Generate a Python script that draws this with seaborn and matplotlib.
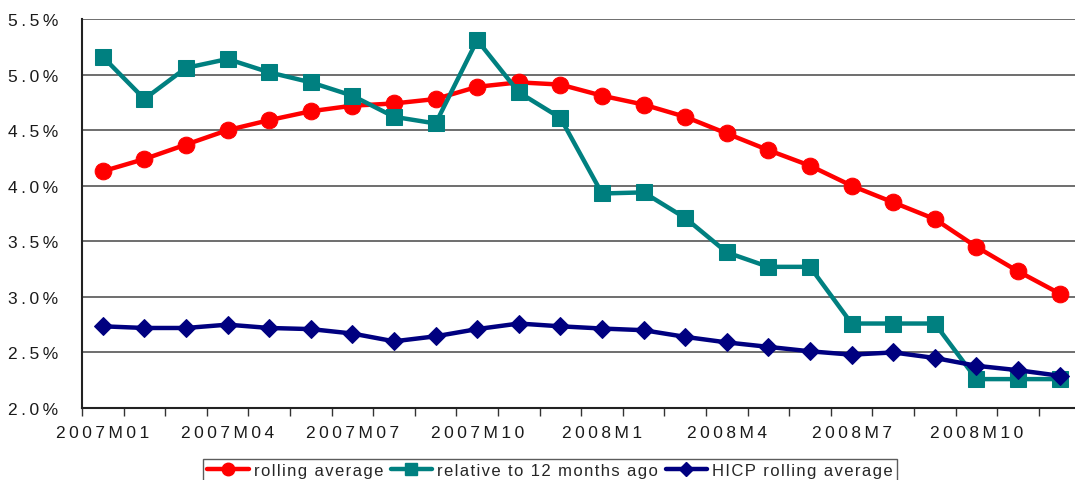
import matplotlib
matplotlib.use("Agg")
import matplotlib.pyplot as plt
from matplotlib.ticker import FixedLocator, NullFormatter
import numpy as np
import pandas as pd
import seaborn as sns

# Monthly categories, January 2007 to December 2008
months = [f"2007M{m:02d}" for m in range(1, 13)] + [f"2008M{m}" for m in range(1, 13)]

# Inflation measures, percent
rolling_average = [4.13, 4.24, 4.37, 4.50, 4.59, 4.67, 4.72, 4.74, 4.78, 4.89, 4.93, 4.91,
                   4.81, 4.73, 4.62, 4.47, 4.32, 4.18, 4.00, 3.85, 3.70, 3.45, 3.23, 3.03]
relative_12m = [5.16, 4.78, 5.06, 5.14, 5.02, 4.93, 4.81, 4.62, 4.56, 5.31, 4.84, 4.61,
                3.93, 3.94, 3.71, 3.40, 3.27, 3.27, 2.76, 2.76, 2.76, 2.26, 2.26, 2.26]
hicp_rolling = [2.735, 2.72, 2.72, 2.75, 2.72, 2.71, 2.67, 2.60, 2.645, 2.71, 2.76, 2.735,
                2.715, 2.70, 2.64, 2.59, 2.55, 2.51, 2.48, 2.50, 2.45, 2.38, 2.34, 2.29]

series_names = ["rolling average", "relative to 12 months ago", "HICP rolling average"]
tick_months = ["2007M01", "2007M04", "2007M07", "2007M10",
               "2008M1", "2008M4", "2008M7", "2008M10"]
y_ticks = [2.0, 2.5, 3.0, 3.5, 4.0, 4.5, 5.0, 5.5]

sns.set_style("white")
plt.rcParams["font.family"] = ["Liberation Sans", "DejaVu Sans"]


def spaced(s, gap="\u2009"):
    """Widen lettering by putting a narrow space between characters."""
    return gap.join(s)


df = pd.DataFrame({
    "month": months * 3,
    "value": rolling_average + relative_12m + hicp_rolling,
    "series": np.repeat(series_names, len(months)),
})

fig = plt.figure(figsize=(10.75, 4.81), dpi=100)
ax = fig.add_axes([82 / 1075, 1 - 409 / 481, 1 - 82 / 1075, (409 - 20) / 481])

styles = {
    "rolling average": dict(color="#FF0000", marker="o", markersize=12),
    "relative to 12 months ago": dict(color="#008080", marker="s", markersize=12),
    "HICP rolling average": dict(color="#000080", marker="D", markersize=9),
}

for name in series_names:
    st = styles[name]
    sns.lineplot(data=df[df["series"] == name], x="month", y="value", ax=ax,
                 color=st["color"], marker=st["marker"], markersize=st["markersize"],
                 markeredgecolor=st["color"], linewidth=3.2, sort=False, label=name,
                 legend=False)

ax.set_xlim(-0.5, 23.37)
ax.set_ylim(2.0, 5.5)
ax.set_xlabel("")
ax.set_ylabel("")

# y axis: percent labels and horizontal gridlines
ax.set_yticks(y_ticks)
ax.set_yticklabels([spaced(f"{v:.1f}%") for v in y_ticks])
ax.tick_params(axis="y", length=0, pad=17, labelsize=12.5, colors="#1a1a1a")
for v in y_ticks[1:]:
    ax.axhline(v, color="#555555", linewidth=1.2, zorder=0)

# x axis: tick marks at month boundaries, labels at quarter months
ax.xaxis.set_major_locator(FixedLocator(np.arange(len(months)) - 0.5))
ax.xaxis.set_major_formatter(NullFormatter())
ax.xaxis.set_minor_locator(FixedLocator([months.index(m) for m in tick_months]))
ax.set_xticklabels([spaced(m) for m in tick_months], minor=True)
ax.tick_params(axis="x", which="major", direction="out", length=6, width=1,
               color="#333333", bottom=True)
ax.tick_params(axis="x", which="minor", length=0, pad=12, labelsize=12.5,
               colors="#1a1a1a", bottom=True)

for side in ("top", "right"):
    ax.spines[side].set_visible(False)
for side in ("left", "bottom"):
    ax.spines[side].set_color("#222222")
    ax.spines[side].set_linewidth(1.5)

handles = []
for name in series_names:
    st = styles[name]
    (h,) = ax.plot([], [], color=st["color"], marker=st["marker"],
                   markersize=st["markersize"] * 0.75, linewidth=3.2, label=name)
    handles.append(h)

leg = fig.legend(handles=handles, labels=[spaced(n, "\u200a") for n in series_names],
                 loc="upper center", bbox_to_anchor=(550 / 1075, 1 - 460 / 481),
                 ncol=3, fontsize=12, frameon=True, fancybox=False,
                 edgecolor="#333333", handlelength=2.5, handletextpad=0.3,
                 columnspacing=0.45, borderpad=0.25, borderaxespad=0.0)
leg.get_frame().set_linewidth(1.0)

fig.savefig("out.png", dpi=100)
